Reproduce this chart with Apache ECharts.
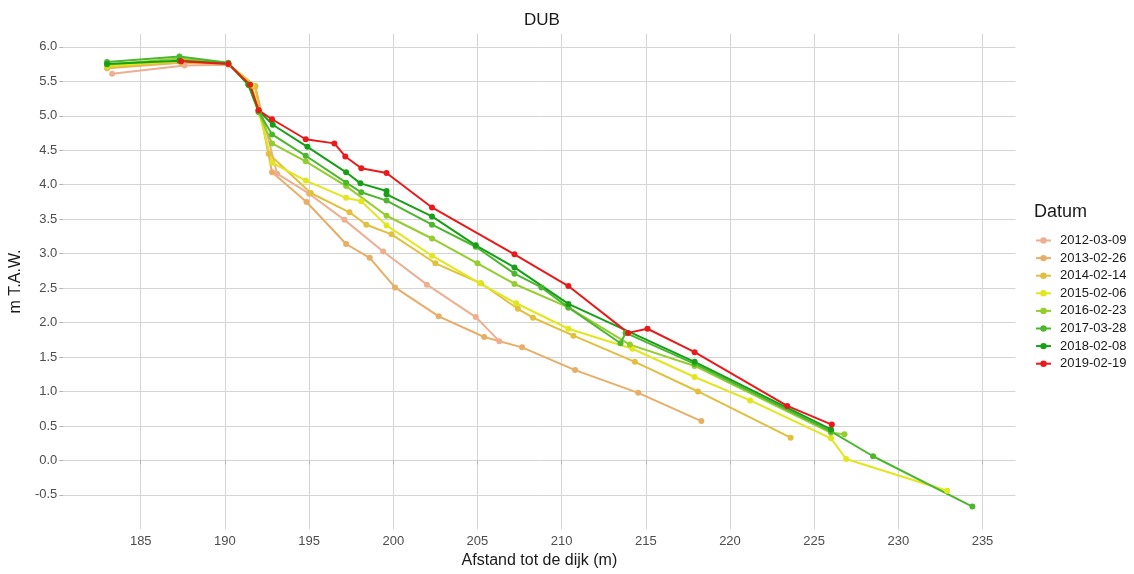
<!DOCTYPE html>
<html>
<head>
<meta charset="utf-8">
<script src="https://cdn.jsdelivr.net/npm/echarts@6/dist/echarts.min.js"></script>
<style>
  html, body { margin: 0; padding: 0; background: #fff; }
  #chart { width: 1134px; height: 574px; }
</style>
</head>
<body>
<div id="chart"></div>
<script>
const chartTitle = 'DUB';
const xAxisTitle = 'Afstand tot de dijk (m)';
const yAxisTitle = 'm T.A.W.';
const legendTitle = 'Datum';
const xTicks = [185, 190, 195, 200, 205, 210, 215, 220, 225, 230, 235];
const yTicks = [-0.5, 0, 0.5, 1, 1.5, 2, 2.5, 3, 3.5, 4, 4.5, 5, 5.5, 6];
const seriesNames = ['2012-03-09', '2013-02-26', '2014-02-14', '2015-02-06', '2016-02-23', '2017-03-28', '2018-02-08', '2019-02-19'];
const seriesColors = ['#EDAF90', '#E8AE66', '#E2BF3C', '#E2E61C', '#93CE2C', '#4CB72E', '#17A017', '#EA1A1A'];

const x2012 = [183.3, 187.6, 190.2, 191.8, 193.1, 195.0, 197.1, 199.4, 202.0, 204.9, 206.3];
const y2012 = [5.61, 5.73, 5.74, 5.42, 4.16, 3.87, 3.49, 3.03, 2.55, 2.08, 1.73];

const x2013 = [183.0, 187.4, 190.2, 191.8, 192.8, 194.85, 197.2, 198.6, 200.1, 202.7, 205.4, 207.65, 210.8, 214.55, 218.3];
const y2013 = [5.69, 5.77, 5.75, 5.43, 4.18, 3.75, 3.14, 2.94, 2.51, 2.09, 1.79, 1.64, 1.31, 0.98, 0.57];

const x2014 = [183.0, 187.4, 190.2, 191.8, 192.6, 195.1, 197.4, 198.4, 199.9, 202.5, 205.2, 207.4, 208.3, 210.7, 214.35, 218.1, 223.6];
const y2014 = [5.70, 5.78, 5.75, 5.43, 4.45, 3.88, 3.60, 3.42, 3.28, 2.86, 2.57, 2.20, 2.07, 1.81, 1.43, 1.00, 0.33];

const x2015 = [183.0, 187.4, 190.2, 191.6, 192.8, 194.8, 197.2, 198.1, 199.6, 202.3, 205.15, 207.3, 210.4, 214.2, 217.9, 221.2, 226.0, 226.9, 232.9];
const y2015 = [5.72, 5.80, 5.76, 5.44, 4.32, 4.06, 3.81, 3.76, 3.41, 2.97, 2.57, 2.28, 1.91, 1.62, 1.21, 0.87, 0.32, 0.02, -0.44];

const x2016 = [183.0, 187.3, 190.2, 191.4, 192.0, 192.8, 194.8, 197.2, 199.6, 202.3, 205.0, 207.2, 210.4, 214.05, 217.9, 226.0, 226.8];
const y2016 = [5.74, 5.83, 5.76, 5.45, 5.05, 4.60, 4.34, 3.98, 3.55, 3.22, 2.86, 2.56, 2.22, 1.68, 1.37, 0.40, 0.38];

const x2017 = [183.0, 187.3, 190.2, 191.4, 192.0, 192.8, 194.8, 197.2, 198.1, 199.6, 202.3, 204.9, 207.2, 208.8, 210.4, 213.5, 213.8, 217.9, 226.0, 228.5, 234.4];
const y2017 = [5.78, 5.86, 5.77, 5.45, 5.06, 4.73, 4.42, 4.03, 3.89, 3.77, 3.42, 3.10, 2.71, 2.51, 2.22, 1.70, 1.85, 1.40, 0.42, 0.06, -0.67];

const x2018 = [183.0, 187.3, 190.2, 191.4, 192.0, 192.84, 194.9, 197.2, 198.05, 199.6, 199.6, 202.3, 204.9, 207.2, 210.4, 217.9, 226.0];
const y2018 = [5.75, 5.80, 5.76, 5.45, 5.08, 4.87, 4.55, 4.18, 4.02, 3.91, 3.86, 3.54, 3.12, 2.80, 2.27, 1.43, 0.45];

const x2019 = [187.4, 190.2, 191.5, 192.0, 192.8, 194.8, 196.5, 197.15, 198.1, 199.6, 202.3, 207.2, 210.4, 213.95, 215.1, 217.9, 223.4, 226.05];
const y2019 = [5.79, 5.75, 5.45, 5.08, 4.95, 4.66, 4.60, 4.41, 4.24, 4.17, 3.67, 2.99, 2.53, 1.85, 1.91, 1.57, 0.79, 0.52];

const allX = [x2012, x2013, x2014, x2015, x2016, x2017, x2018, x2019];
const allY = [y2012, y2013, y2014, y2015, y2016, y2017, y2018, y2019];

const FONT = '"Liberation Sans", Arial, sans-serif';

const series = seriesNames.map((name, i) => ({
  name: name,
  type: 'line',
  data: allX[i].map((x, j) => [x, allY[i][j]]),
  symbol: 'circle',
  symbolSize: 6,
  showSymbol: true,
  lineStyle: { width: 2, color: seriesColors[i] },
  itemStyle: { color: seriesColors[i] },
  emphasis: { disabled: true },
  animation: false
}));

const chart = echarts.init(document.getElementById('chart'), null, { renderer: 'canvas' });
chart.setOption({
  backgroundColor: '#ffffff',
  animation: false,
  title: [
    { text: chartTitle, left: 537, top: 7, textAlign: 'center',
      textStyle: { fontFamily: FONT, fontSize: 17, fontWeight: 'normal', color: '#1a1a1a' } },
    { text: legendTitle, left: 1029, top: 198,
      textStyle: { fontFamily: FONT, fontSize: 18, fontWeight: 'normal', color: '#1a1a1a' } }
  ],
  legend: {
    orient: 'vertical',
    left: 1030,
    top: 229,
    itemWidth: 15,
    itemHeight: 8,
    itemGap: 4.6,
    data: seriesNames,
    textStyle: { fontFamily: FONT, fontSize: 13, color: '#1a1a1a', padding: [0, 0, 0, 4] },
    selectedMode: false
  },
  grid: { left: 59, right: 118.5, top: 33.8, bottom: 40.3, containLabel: false },
  xAxis: {
    type: 'value',
    min: 180.4,
    max: 236.96,
    name: xAxisTitle,
    nameLocation: 'middle',
    nameGap: 21,
    nameTextStyle: { fontFamily: FONT, fontSize: 16, color: '#1a1a1a' },
    axisLine: { show: false },
    axisTick: { show: true, length: 4, lineStyle: { color: '#b3b3b3' }, customValues: xTicks },
    axisLabel: { customValues: xTicks, fontFamily: FONT, fontSize: 13, color: '#4d4d4d', margin: 6,
      formatter: v => String(v) },
    splitLine: { show: true, lineStyle: { color: '#d4d4d4', width: 1 } }
  },
  yAxis: {
    type: 'value',
    min: -0.997,
    max: 6.19,
    name: yAxisTitle,
    nameLocation: 'middle',
    nameGap: 30,
    nameRotate: 90,
    nameTextStyle: { fontFamily: FONT, fontSize: 16, color: '#1a1a1a' },
    axisLine: { show: false },
    axisTick: { show: true, length: 4, lineStyle: { color: '#b3b3b3' }, customValues: yTicks },
    axisLabel: { customValues: yTicks, fontFamily: FONT, fontSize: 13, color: '#4d4d4d', margin: 6,
      formatter: v => v.toFixed(1) },
    splitLine: { show: true, lineStyle: { color: '#d4d4d4', width: 1 } }
  },
  series: series
});
</script>
</body>
</html>
